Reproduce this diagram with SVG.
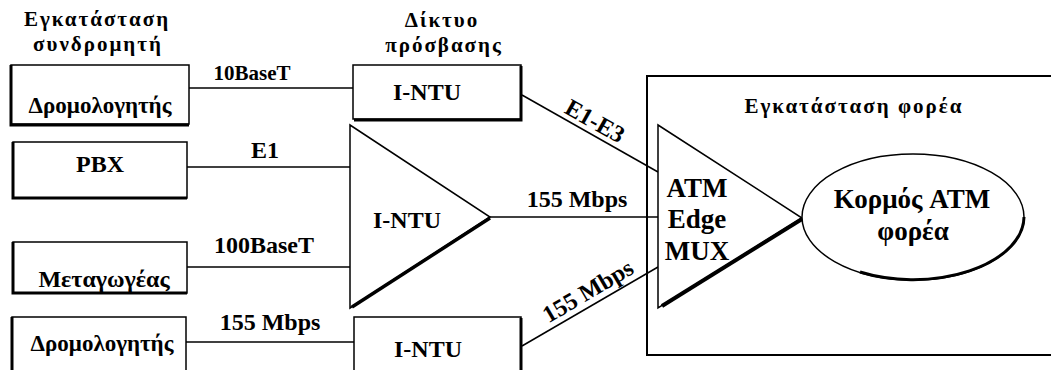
<svg xmlns="http://www.w3.org/2000/svg" width="1051" height="370" viewBox="0 0 1051 370">
<style>
text{font-family:'Liberation Serif','DejaVu Serif',serif;font-weight:700;fill:#000;text-anchor:middle}
.box{fill:#fff;stroke:#000;stroke-width:1.5}
.sh{stroke:#000;stroke-width:3;fill:none}
.ln{stroke:#000;stroke-width:1.5;fill:none}
.ttl{font-size:21px;letter-spacing:2px}
.t21{font-size:21px}
.t23{font-size:23px}
.t24{font-size:24px}
.t27{font-size:27px}
</style>
<rect width="1051" height="370" fill="#fff"/>
<g id="titles">
<text class="ttl" x="97" y="26">Εγκατάσταση</text>
<text class="ttl" x="98" y="51">συνδρομητή</text>
<text class="ttl" x="442" y="27">Δίκτυο</text>
<text class="ttl" x="444" y="52">πρόσβασης</text>
</g>
<g id="carrier">
<rect x="647" y="76" width="410" height="279" fill="none" stroke="#000" stroke-width="2"/>
<text class="ttl" x="854" y="113">Εγκατάσταση φορέα</text>
</g>
<g id="connectors">
<line class="ln" x1="189" y1="88" x2="353" y2="88"/>
<text class="t21" x="252" y="80">10BaseT</text>
<line class="ln" x1="187" y1="167" x2="350" y2="167"/>
<text class="t24" x="265" y="158">E1</text>
<line class="ln" x1="187" y1="267" x2="350" y2="267"/>
<text class="t24" x="264" y="253">100BaseT</text>
<line class="ln" x1="186" y1="342" x2="354" y2="342"/>
<text class="t24" x="270" y="330">155 Mbps</text>
<line class="ln" x1="522" y1="95" x2="658" y2="172" stroke-width="2"/>
<text class="t24" transform="translate(591,128) rotate(29.5)" x="0" y="0">E1-E3</text>
<line class="ln" x1="490" y1="217" x2="658" y2="217"/>
<text class="t24" x="577" y="207">155 Mbps</text>
<line class="ln" x1="522" y1="346" x2="658" y2="267"/>
<text class="t24" transform="translate(592,298) rotate(-30.5)" x="0" y="0">155 Mbps</text>
</g>
<g id="router1">
<rect class="box" x="11" y="65" width="178" height="59"/>
<path class="sh" d="M11,65 V125 H189"/>
<text class="t23" x="100" y="113">Δρομολογητής</text>
</g>
<g id="pbx">
<rect class="box" x="13" y="142" width="174" height="56"/>
<path class="sh" d="M13,142 V198 H187"/>
<text class="t24" x="100" y="172">PBX</text>
</g>
<g id="switch">
<rect class="box" x="13" y="242" width="174" height="51"/>
<path class="sh" d="M13,242 V293 H187"/>
<text class="t24" x="104" y="287">Μεταγωγέας</text>
</g>
<g id="router2">
<rect class="box" x="12" y="317" width="174" height="60"/>
<path class="sh" d="M12,317 V377"/>
<text class="t23" x="102" y="351">Δρομολογητής</text>
</g>
<g id="intu1">
<rect class="box" x="353" y="65" width="168" height="54"/>
<path class="sh" d="M521,66 V120 H354"/>
<text class="t24" x="427" y="100">I-NTU</text>
</g>
<g id="intu2">
<polygon class="box" points="350,125 350,308 490,217"/>
<line x1="352" y1="307" x2="490" y2="218" stroke="#000" stroke-width="3.5"/>
<text class="t24" x="407" y="228">I-NTU</text>
</g>
<g id="intu3">
<rect class="box" x="354" y="317" width="167" height="60"/>
<path class="sh" d="M521,318 V377"/>
<text class="t24" x="428" y="357">I-NTU</text>
</g>
<g id="atmmux">
<polygon class="box" points="658,125 658,308 802,218"/>
<line x1="662" y1="306" x2="802" y2="219" stroke="#000" stroke-width="4"/>
<text class="t27" x="697" y="197">ATM</text>
<text class="t27" x="697" y="228">Edge</text>
<text class="t27" x="697" y="260">MUX</text>
</g>
<g id="core">
<ellipse cx="913" cy="217" rx="111" ry="63" fill="#fff" stroke="#000" stroke-width="1.5"/>
<path d="M1024,217 A111,63 0 0 1 860,272" fill="none" stroke="#000" stroke-width="3"/>
<text class="t27" x="912" y="208">Κορμός ATM</text>
<text class="t27" x="913" y="240">φορέα</text>
</g>
</svg>
